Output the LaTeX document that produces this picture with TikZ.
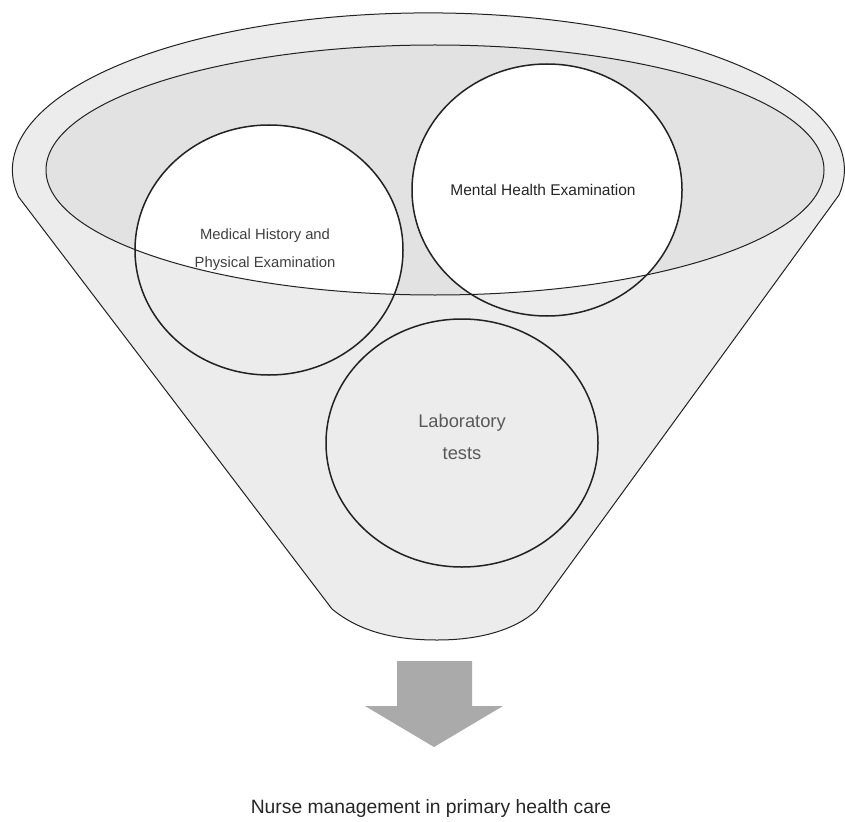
\documentclass[tikz,border=0pt]{standalone}
\usepackage{fontspec}
\setmainfont{Liberation Sans}
\usetikzlibrary{shapes.geometric}
\definecolor{funnelgray}{HTML}{ECECEC}
\definecolor{innergray}{HTML}{E2E2E2}
\definecolor{arrowgray}{HTML}{AAAAAA}
\definecolor{linegray}{HTML}{222222}
\tikzset{
  outline/.style={draw=linegray, line width=1pt},
  circ/.style={ellipse, draw=linegray, line width=1.5pt, inner sep=0pt},
  lbl/.style={inner sep=0pt, align=center}
}
\begin{document}
\begin{tikzpicture}[x=1pt,y=-1pt]
\useasboundingbox (0,0) rectangle (845,821);
% funnel body
\path[outline, fill=funnelgray]
  (839,195) arc[start angle=9.2, end angle=-189.9, x radius=416, y radius=157]
  -- (332,609) .. controls (360,632) and (395,640) .. (437,640)
  .. controls (480,640) and (515,630) .. (537,610) -- cycle;
% inner ellipse fill
\fill[innergray] (435,170) ellipse [x radius=389, y radius=125];
% circle nodes (outlines drawn later)
\node[circ, draw=none, minimum width=268pt, minimum height=250pt] (med) at (269,250) {};
\node[circ, draw=none, minimum width=270pt, minimum height=252pt] (ment) at (547,190) {};
\node[circ, fill=funnelgray, minimum width=272pt, minimum height=248pt] (lab) at (462,443) {};
% white parts of circles within the inner ellipse
\begin{scope}
  \clip (435,170) ellipse [x radius=389, y radius=125];
  \fill[white] (med.center) ellipse [x radius=134, y radius=125];
  \fill[white] (ment.center) ellipse [x radius=135, y radius=126];
\end{scope}
% outlines
\draw[outline] (435,170) ellipse [x radius=389, y radius=125];
\draw[linegray, line width=1.5pt] (med.center) ellipse [x radius=134, y radius=125];
\draw[linegray, line width=1.5pt] (ment.center) ellipse [x radius=135, y radius=126];
% texts
\node[lbl, font=\fontsize{14.8}{28}\selectfont, text=black!75] (medtxt) at (265,250) {Medical History and\\Physical Examination};
\node[lbl, font=\fontsize{15.5}{17}\selectfont, text=black!85] (menttxt) at (543,190) {Mental Health Examination};
\node[lbl, font=\fontsize{18.3}{32}\selectfont, text=black!65] (labtxt) at (462,437) {Laboratory\\tests};
% arrow
\fill[arrowgray] (397,661) -- (472,661) -- (472,706) -- (503,706) -- (434,747) -- (365,706) -- (397,706) -- cycle;
\node[lbl, font=\fontsize{19.3}{23}\selectfont, text=black!85] (result) at (431,808) {Nurse management in primary health care};
\end{tikzpicture}
\end{document}
